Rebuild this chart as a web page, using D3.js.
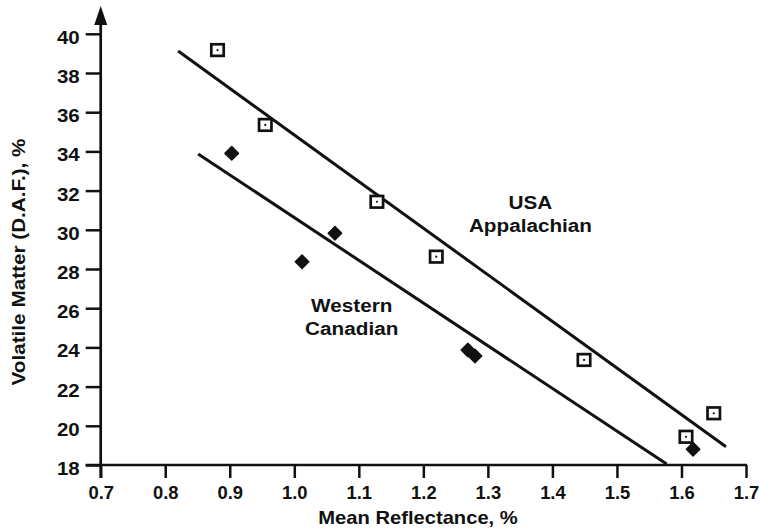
<!DOCTYPE html>
<html>
<head>
<meta charset="utf-8">
<script src="https://cdn.jsdelivr.net/npm/d3@7"></script>
<style>
  html, body { margin: 0; padding: 0; background: #fff; }
  svg { display: block; }
  text { font-family: "Liberation Sans", Arial, Helvetica, sans-serif; font-weight: bold; fill: #111; }
</style>
</head>
<body>
<svg id="chart" width="759" height="532"></svg>
<script>
// Mean reflectance (%) vs volatile matter (D.A.F., %) for two coal suites
const xTicks = [0.7, 0.8, 0.9, 1.0, 1.1, 1.2, 1.3, 1.4, 1.5, 1.6, 1.7];
const yTicks = [18, 20, 22, 24, 26, 28, 30, 32, 34, 36, 38, 40];

const usaReflectance = [0.881, 0.955, 1.128, 1.220, 1.449, 1.607, 1.650];
const usaVolatile    = [39.17, 35.35, 31.43, 28.63, 23.36, 19.44, 20.64];

const canReflectance = [0.903, 1.012, 1.063, 1.269, 1.280, 1.618];
const canVolatile    = [33.90, 28.37, 29.82, 23.87, 23.56, 18.80];

// Trend line end points [reflectance, volatile matter]
const usaFit = [[0.820, 39.12], [1.669, 18.93]];
const canFit = [[0.851, 33.87], [1.577, 18.05]];

const seriesLabels = [
  { lines: ["USA", "Appalachian"], at: [1.366, 31.05] },
  { lines: ["Western", "Canadian"], at: [1.089, 25.82] }
];

const xTitle = "Mean Reflectance, %";
const yTitle = "Volatile Matter (D.A.F.), %";

const svg = d3.select("#chart");
const x = d3.scaleLinear().domain([0.7, 1.7]).range([100.7, 746]);
const y = d3.scaleLinear().domain([18, 40]).range([465, 33.8]);
const stretch = 1.12; // slightly wide lettering

// X axis
const gx = svg.append("g").attr("transform", `translate(0,${y(18)})`)
  .call(d3.axisBottom(x).tickValues(xTicks).tickFormat(d3.format(".1f"))
    .tickSize(13).tickPadding(9));
gx.select(".domain").remove();
gx.selectAll(".tick line").attr("stroke", "#111").attr("stroke-width", 2.5);
gx.selectAll(".tick text").attr("font-size", 17.5).attr("dy", "0.71em")
  .attr("transform", "scale(1.05,1)");

// Y axis
const gy = svg.append("g").attr("transform", `translate(${x(0.7)},0)`)
  .call(d3.axisLeft(y).tickValues(yTicks).tickFormat(d3.format("d"))
    .tickSize(15).tickPadding(6));
gy.select(".domain").remove();
gy.selectAll(".tick line").attr("stroke", "#111").attr("stroke-width", 2.5);
gy.selectAll(".tick text").attr("font-size", 18.3).attr("dy", "0.52em")
  .each(function () {
    const t = d3.select(this);
    const tx = +t.attr("x");
    t.attr("transform", `translate(${tx},0) scale(${stretch},1) translate(${-tx},0)`);
  });

// Axis lines with the arrow on the vertical axis
svg.append("line")
  .attr("x1", x(0.7) - 15).attr("x2", x(1.7) + 1)
  .attr("y1", y(18)).attr("y2", y(18))
  .attr("stroke", "#111").attr("stroke-width", 2.7);
svg.append("line")
  .attr("x1", x(0.7)).attr("x2", x(0.7))
  .attr("y1", y(18) + 13).attr("y2", 22)
  .attr("stroke", "#111").attr("stroke-width", 2.7);
svg.append("path")
  .attr("d", `M${x(0.7)},6 L${x(0.7) - 6.5},25 L${x(0.7) + 6.5},25 Z`)
  .attr("fill", "#111");

// Trend lines
const line = d3.line().x(d => x(d[0])).y(d => y(d[1]));
[usaFit, canFit].forEach(fit => {
  svg.append("path").attr("d", line(fit))
    .attr("fill", "none").attr("stroke", "#111").attr("stroke-width", 3);
});

// USA Appalachian: open squares with a centre dot
const usa = usaReflectance.map((r, i) => [r, usaVolatile[i]]);
const sq = svg.append("g").selectAll("g").data(usa).join("g")
  .attr("transform", d => `translate(${x(d[0])},${y(d[1])})`);
sq.append("rect").attr("x", -6.2).attr("y", -5.8).attr("width", 12.4).attr("height", 11.6)
  .attr("fill", "#fff").attr("stroke", "#111").attr("stroke-width", 2.7);
sq.append("circle").attr("r", 1.1).attr("fill", "#111");

// Western Canadian: filled diamonds
const can = canReflectance.map((r, i) => [r, canVolatile[i]]);
svg.append("g").selectAll("path").data(can).join("path")
  .attr("d", d3.symbol(d3.symbolSquare, 90))
  .attr("transform", d => `translate(${x(d[0])},${y(d[1])}) rotate(45)`)
  .attr("fill", "#111").attr("stroke", "#111").attr("stroke-width", 1.5)
  .attr("stroke-linejoin", "round");

// Series labels
seriesLabels.forEach(lab => {
  const cx = x(lab.at[0]), cy = y(lab.at[1]);
  const t = svg.append("text").attr("text-anchor", "middle").attr("font-size", 18.5)
    .attr("transform", `translate(${cx},${cy}) scale(${stretch},1)`);
  lab.lines.forEach((s, i) => t.append("tspan").attr("x", 0).attr("y", i * 23).text(s));
});

// Axis titles
svg.append("text").attr("text-anchor", "middle").attr("font-size", 18)
  .attr("transform", `translate(418,524) scale(${stretch},1)`).text(xTitle);
svg.append("text").attr("text-anchor", "middle").attr("font-size", 18.5)
  .attr("transform", `translate(25,262) rotate(-90) scale(${stretch},1)`).text(yTitle);
</script>
</body>
</html>
